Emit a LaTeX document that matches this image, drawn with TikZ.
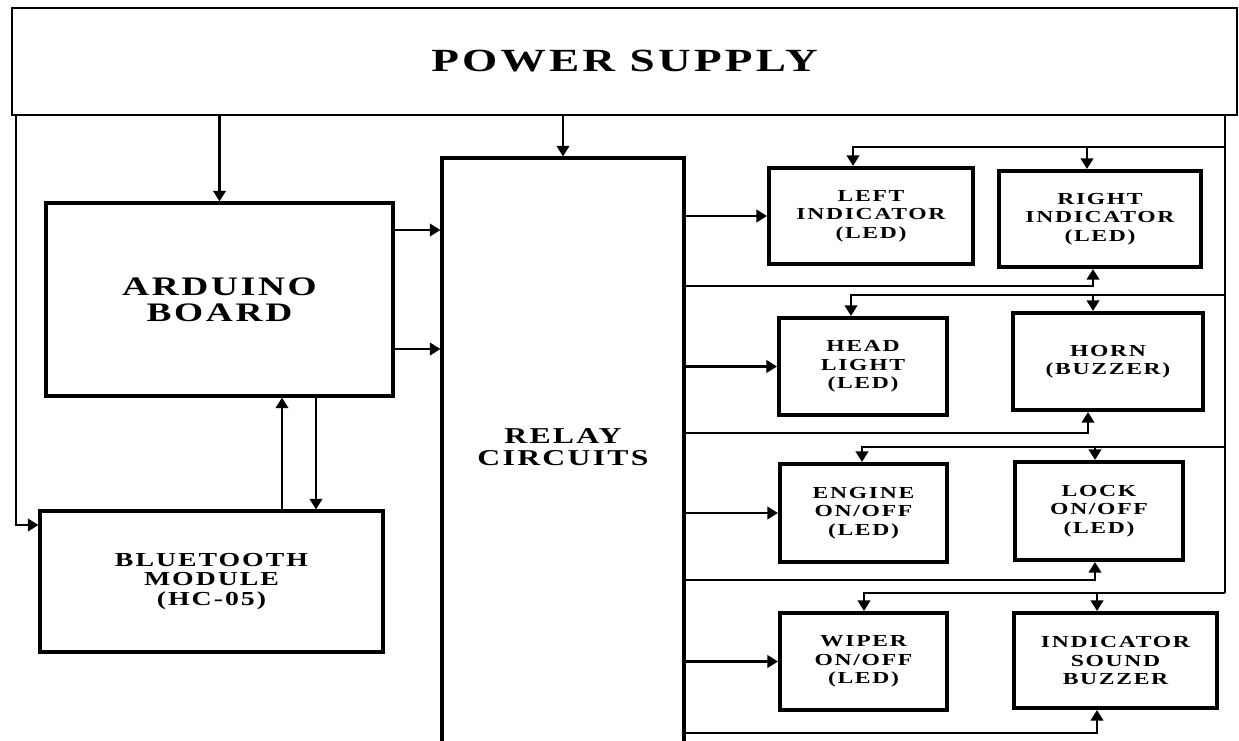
\documentclass[tikz,border=0pt]{standalone}
\usepackage{fontspec}
\setmainfont{Liberation Serif}[FakeStretch=1.4, LetterSpace=10]
\usetikzlibrary{arrows.meta,positioning,calc}

\tikzset{
  bigbox/.style={draw, line width=1.8pt, inner sep=0pt, align=center},
  unit/.style={draw, line width=2.3pt, inner sep=0pt, align=center,
    font=\bfseries\fontsize{9.6}{10.5}\selectfont},
  wire/.style={line width=1.6pt},
}

\begin{document}
\begin{tikzpicture}[x=0.02cm, y=-0.02cm, >={Triangle[length=6pt,width=7pt]}]
  \useasboundingbox (0,0) rectangle (1239,740);

  % left part
  \node[bigbox, line width=1.5pt, minimum width=24.5cm, minimum height=2.14cm,
        font=\bfseries\fontsize{18.4}{20}\selectfont] (ps) at (624.5,61.5) {POWER SUPPLY};
  \node[bigbox, minimum width=6.94cm, minimum height=3.86cm,
        font=\bfseries\fontsize{15.2}{15}\selectfont] (arduino) at (219.5,299.5) {ARDUINO\\BOARD};
  \node[bigbox, minimum width=6.86cm, minimum height=2.82cm,
        font=\bfseries\fontsize{11.3}{11}\selectfont] (bt) at (211.5,581.5) {BLUETOOTH\\MODULE\\(HC-05)};
  \node[bigbox, minimum width=4.84cm, minimum height=12.64cm] (relay) at (563,474) {};
  \node[font=\bfseries\fontsize{12.9}{12.9}\selectfont, align=center] (relaytxt) at (563,447) {RELAY\\CIRCUITS};

  % loads
  \node[unit, minimum width=4.08cm, minimum height=1.92cm] (leftind) at (871,216) {LEFT\\INDICATOR\\(LED)};
  \node[unit, minimum width=4.04cm, minimum height=1.92cm] (rightind) at (1100,219) {RIGHT\\INDICATOR\\(LED)};
  \node[unit, minimum width=3.36cm, minimum height=1.94cm] (headlight) at (863,366.5) {HEAD\\LIGHT\\(LED)};
  \node[unit, minimum width=3.8cm, minimum height=1.94cm] (horn) at (1108,361.5) {HORN\\(BUZZER)};
  \node[unit, minimum width=3.34cm, minimum height=1.96cm] (engine) at (863.5,513) {ENGINE\\ON/OFF\\(LED)};
  \node[unit, minimum width=3.36cm, minimum height=1.96cm] (lock) at (1099,511) {LOCK\\ON/OFF\\(LED)};
  \node[unit, minimum width=3.34cm, minimum height=1.94cm] (wiper) at (863.5,661.5) {WIPER\\ON/OFF\\(LED)};
  \node[unit, minimum width=4.06cm, minimum height=1.9cm] (indsound) at (1115.5,660.5) {INDICATOR\\SOUND\\BUZZER};

  % supply lines
  \draw[wire,->] (ps.south -| arduino.north) -- (arduino.north);
  \draw[wire,->] (ps.south -| relay.north) -- (relay.north);
  \coordinate (btin) at (16,525);
  \draw[wire,->] (ps.south -| btin) -- (btin) -- (btin -| bt.west);

  % arduino and bluetooth
  \coordinate (ar1) at (0,230);
  \coordinate (ar2) at (0,349);
  \draw[wire,->] (arduino.east |- ar1) -- (relay.west |- ar1);
  \draw[wire,->] (arduino.east |- ar2) -- (relay.west |- ar2);
  \coordinate (bt1) at (282,0);
  \coordinate (bt2) at (316,0);
  \draw[wire,->] (bt.north -| bt1) -- (arduino.south -| bt1);
  \draw[wire,->] (arduino.south -| bt2) -- (bt.north -| bt2);

  % right trunk
  \coordinate (trunk) at (1225,593);
  \draw[wire] (ps.south -| trunk) -- (trunk);

  % row 1
  \coordinate (t1) at (853,147);
  \coordinate (u1) at (1087,147);
  \coordinate (r1) at (1093,286);
  \draw[wire,->] (t1 -| trunk) -- (t1) -- (t1 |- leftind.north);
  \draw[wire,->] (u1) -- (u1 |- rightind.north);
  \draw[wire,->] (relay.east |- leftind.west) -- (leftind.west);
  \draw[wire,->] (relay.east |- r1) -- (r1) -- (r1 |- rightind.south);

  % row 2
  \coordinate (t2) at (851,295);
  \coordinate (u2) at (1093,295);
  \coordinate (r2) at (1088,433);
  \draw[wire,->] (t2 -| trunk) -- (t2) -- (t2 |- headlight.north);
  \draw[wire,->] (u2) -- (u2 |- horn.north);
  \draw[wire,->] (relay.east |- headlight.west) -- (headlight.west);
  \draw[wire,->] (relay.east |- r2) -- (r2) -- (r2 |- horn.south);

  % row 3
  \coordinate (t3) at (862,447);
  \coordinate (u3) at (1095,447);
  \coordinate (r3) at (1095,580);
  \draw[wire,->] (t3 -| trunk) -- (t3) -- (t3 |- engine.north);
  \draw[wire,->] (u3) -- (u3 |- lock.north);
  \draw[wire,->] (relay.east |- engine.west) -- (engine.west);
  \draw[wire,->] (relay.east |- r3) -- (r3) -- (r3 |- lock.south);

  % row 4
  \coordinate (t4) at (864,593);
  \coordinate (u4) at (1097,593);
  \coordinate (r4) at (1097,733);
  \draw[wire,->] (trunk) -- (t4) -- (t4 |- wiper.north);
  \draw[wire,->] (u4) -- (u4 |- indsound.north);
  \draw[wire,->] (relay.east |- wiper.west) -- (wiper.west);
  \draw[wire,->] (relay.east |- r4) -- (r4) -- (r4 |- indsound.south);
\end{tikzpicture}
\end{document}
